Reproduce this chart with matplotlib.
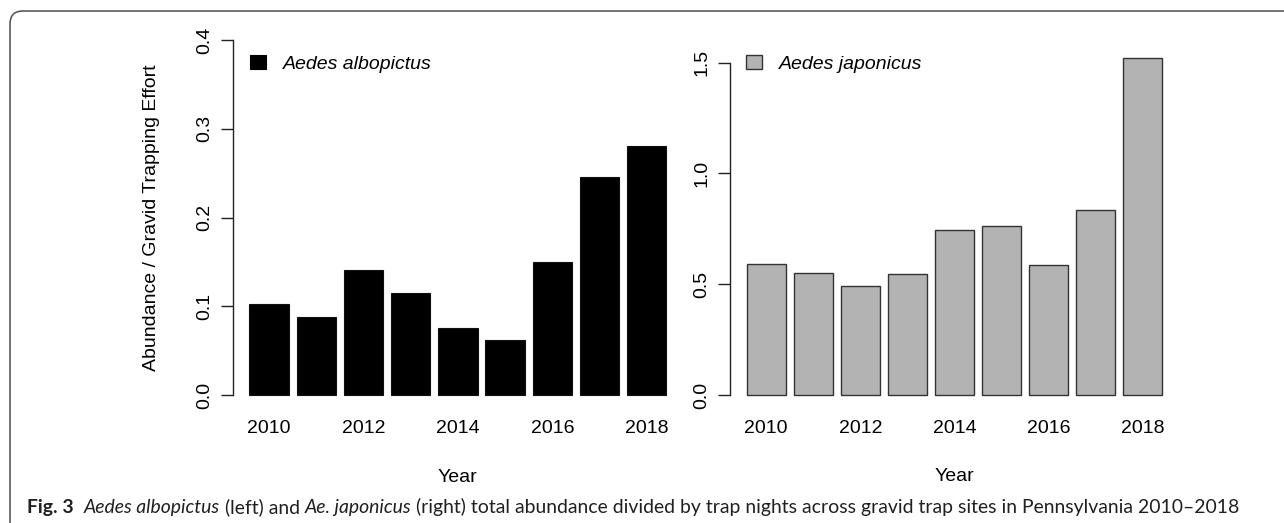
import matplotlib
matplotlib.use("Agg")
import matplotlib.pyplot as plt
from matplotlib.patches import FancyBboxPatch, Patch
from matplotlib.transforms import IdentityTransform
import numpy as np

# ---------------- data ----------------
years = [2010, 2011, 2012, 2013, 2014, 2015, 2016, 2017, 2018]
albopictus = [0.103, 0.088, 0.141, 0.115, 0.075, 0.062, 0.150, 0.246, 0.280]
japonicus = [0.592, 0.552, 0.493, 0.547, 0.746, 0.764, 0.586, 0.837, 1.521]
tick_years = ["2010", "2012", "2014", "2016", "2018"]
left_yticks = [0.0, 0.1, 0.2, 0.3, 0.4]
left_yticklabels = ["0.0", "0.1", "0.2", "0.3", "0.4"]
right_yticks = [0.0, 0.5, 1.0, 1.5]
right_yticklabels = ["0.0", "0.5", "1.0", "1.5"]
ylabel_text = "Abundance / Gravid Trapping Effort"
xlabel_text = "Year"
legend_left = "Aedes albopictus"
legend_right = "Aedes japonicus"
caption_parts = [
    ("Fig. 3", "normal", "bold"),
    ("Aedes albopictus", "italic", "normal"),
    ("(left) and", "normal", "normal"),
    ("Ae. japonicus", "italic", "normal"),
    ("(right) total abundance divided by trap nights across gravid trap sites in Pennsylvania 2010\u20132018",
     "normal", "normal"),
]
caption_gaps = [2, 1, 1, 1]  # number of spaces after each part

# ---------------- style ----------------
plt.rcParams["font.family"] = ["Liberation Sans", "DejaVu Sans"]
W, H = 1284, 523
fig = plt.figure(figsize=(W / 100, H / 100), dpi=100)
fig.patch.set_facecolor("white")


def px_axes(x0, x1, ytop, ybot):
    return fig.add_axes([x0 / W, 1 - ybot / H, (x1 - x0) / W, (ybot - ytop) / H])


centers = 0.7 + 1.2 * np.arange(len(years))
FS = 14


def style_axis(ax, yticks, yticklabels, ymax_tick):
    for s in ["top", "right", "bottom"]:
        ax.spines[s].set_visible(False)
    ax.spines["left"].set_bounds(0, ymax_tick)
    ax.spines["left"].set_linewidth(1.0)
    ax.spines["left"].set_color("#222222")
    ax.set_xlim(-0.224, 11.224)
    ax.set_yticks(yticks)
    ax.set_yticklabels(yticklabels)
    ax.tick_params(axis="y", length=8.6, width=1.0, color="#222222", direction="out",
                   labelsize=FS, pad=5.5, labelrotation=90)
    for lbl in ax.get_yticklabels():
        lbl.set_va("center")
    ax.set_xticks(centers[::2])
    ax.set_xticklabels(tick_years)
    ax.tick_params(axis="x", length=0, labelsize=FS, pad=8)
    ax.set_facecolor("none")


# left panel
axL = px_axes(232.7, 683.0, 25.8, 409.2)
axL.bar(centers, albopictus, width=1.0, color="black", edgecolor="#111111", linewidth=0.8)
axL.set_ylim(-0.016, 0.416)
style_axis(axL, left_yticks, left_yticklabels, 0.4)
axL.set_xlabel(xlabel_text, fontsize=FS)
axL.xaxis.set_label_coords(0.5, (409.2 - 477) / (409.2 - 25.8))
axL.xaxis.label.set_va("center")
axL.set_ylabel(ylabel_text, fontsize=FS)
axL.yaxis.set_label_coords((151 - 232.7) / (683.0 - 232.7), 0.5)
axL.yaxis.label.set_va("center")
axL.legend(handles=[Patch(facecolor="black", edgecolor="black", linewidth=0.8, label=legend_left)],
           loc="center left", bbox_to_anchor=(250 / W, 1 - 64 / H), bbox_transform=fig.transFigure,
           frameon=False, prop={"style": "italic", "size": FS}, handlelength=0.82,
           handleheight=0.67, handletextpad=0.85, borderpad=0, borderaxespad=0)

# right panel
axR = px_axes(730.0, 1178.8, 44.8, 408.5)
axR.bar(centers, japonicus, width=1.0, color="#b3b3b3", edgecolor="#333333", linewidth=1.0)
axR.set_ylim(-0.0608, 1.5808)
style_axis(axR, right_yticks, right_yticklabels, 1.5)
axR.set_xlabel(xlabel_text, fontsize=FS)
axR.xaxis.set_label_coords(0.5, (408.5 - 477) / (408.5 - 44.8))
axR.xaxis.label.set_va("center")
axR.legend(handles=[Patch(facecolor="#b3b3b3", edgecolor="#333333", linewidth=1.0, label=legend_right)],
           loc="center left", bbox_to_anchor=(746 / W, 1 - 64 / H), bbox_transform=fig.transFigure,
           frameon=False, prop={"style": "italic", "size": FS}, handlelength=0.82,
           handleheight=0.67, handletextpad=0.85, borderpad=0, borderaxespad=0)

# frame
frame = FancyBboxPatch((10, -60), 1400, H - 11 + 60,
                       boxstyle="round,pad=0,rounding_size=13",
                       transform=IdentityTransform(), facecolor="none",
                       edgecolor="#5a5a5a", linewidth=1.2)
fig.patches.append(frame)

# caption
fig.canvas.draw()
renderer = fig.canvas.get_renderer()
CAP_FONT = ["Lato", "DejaVu Sans"]


def make_caption(size):
    texts = []
    x = 27.0
    y = 1 - 507 / H
    for i, (s, style, weight) in enumerate(caption_parts):
        t = fig.text(x / W, y, s, fontsize=size, style=style, weight=weight,
                     family=CAP_FONT, va="center", ha="left", color="#231f20")
        texts.append(t)
        bb = t.get_window_extent(renderer)
        x = bb.x1
        if i < len(caption_gaps):
            t1 = fig.text(0, 0, "n n", fontsize=size, family=CAP_FONT)
            t2 = fig.text(0, 0, "nn", fontsize=size, family=CAP_FONT)
            sw = t1.get_window_extent(renderer).width - t2.get_window_extent(renderer).width
            t1.remove(); t2.remove()
            x += sw * caption_gaps[i]
    return texts, x


size = 12.0
texts, xend = make_caption(size)
for t in texts:
    t.remove()
size = size * (1237 - 27) / (xend - 27)
texts, xend = make_caption(size)

fig.savefig("out.png", dpi=100, facecolor="white")
